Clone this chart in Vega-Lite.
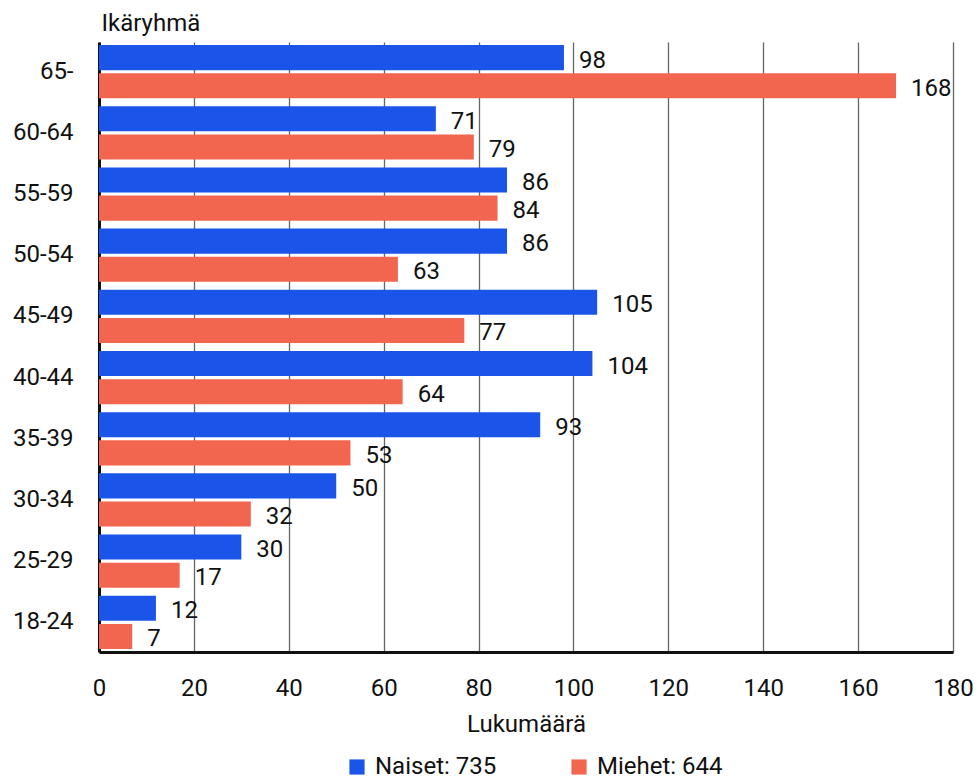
{
  "$schema": "https://vega.github.io/schema/vega-lite/v6.json",
  "width": 854,
  "height": 610,
  "autosize": {"type": "none"},
  "padding": {"left": 99, "top": 42, "right": 26, "bottom": 128},
  "background": "white",
  "config": {
    "font": "Roboto",
    "view": {"stroke": null}
  },
  "data": {
    "values": [
      {"ika": "65-", "sukupuoli": "Naiset: 735", "lkm": 98},
      {"ika": "65-", "sukupuoli": "Miehet: 644", "lkm": 168},
      {"ika": "60-64", "sukupuoli": "Naiset: 735", "lkm": 71},
      {"ika": "60-64", "sukupuoli": "Miehet: 644", "lkm": 79},
      {"ika": "55-59", "sukupuoli": "Naiset: 735", "lkm": 86},
      {"ika": "55-59", "sukupuoli": "Miehet: 644", "lkm": 84},
      {"ika": "50-54", "sukupuoli": "Naiset: 735", "lkm": 86},
      {"ika": "50-54", "sukupuoli": "Miehet: 644", "lkm": 63},
      {"ika": "45-49", "sukupuoli": "Naiset: 735", "lkm": 105},
      {"ika": "45-49", "sukupuoli": "Miehet: 644", "lkm": 77},
      {"ika": "40-44", "sukupuoli": "Naiset: 735", "lkm": 104},
      {"ika": "40-44", "sukupuoli": "Miehet: 644", "lkm": 64},
      {"ika": "35-39", "sukupuoli": "Naiset: 735", "lkm": 93},
      {"ika": "35-39", "sukupuoli": "Miehet: 644", "lkm": 53},
      {"ika": "30-34", "sukupuoli": "Naiset: 735", "lkm": 50},
      {"ika": "30-34", "sukupuoli": "Miehet: 644", "lkm": 32},
      {"ika": "25-29", "sukupuoli": "Naiset: 735", "lkm": 30},
      {"ika": "25-29", "sukupuoli": "Miehet: 644", "lkm": 17},
      {"ika": "18-24", "sukupuoli": "Naiset: 735", "lkm": 12},
      {"ika": "18-24", "sukupuoli": "Miehet: 644", "lkm": 7}
    ]
  },
  "encoding": {
    "y": {
      "field": "ika",
      "type": "nominal",
      "sort": ["65-", "60-64", "55-59", "50-54", "45-49", "40-44", "35-39", "30-34", "25-29", "18-24"],
      "scale": {"paddingInner": 0.13, "paddingOuter": 0.05},
      "axis": {
        "title": "Ikäryhmä",
        "titleAngle": 0,
        "titleAlign": "left",
        "titleBaseline": "alphabetic",
        "titleX": 2,
        "titleY": -12,
        "titleFontSize": 24,
        "titleFontWeight": "normal",
        "titleColor": "#111",
        "labelFontSize": 24,
        "labelColor": "#111",
        "labelPadding": 26,
        "ticks": false,
        "domainColor": "#111",
        "domainWidth": 3,
        "grid": false
      }
    },
    "yOffset": {
      "field": "sukupuoli",
      "type": "nominal",
      "sort": ["Naiset: 735", "Miehet: 644"],
      "scale": {"paddingInner": 0.11, "paddingOuter": 0}
    },
    "x": {
      "field": "lkm",
      "type": "quantitative",
      "scale": {"domain": [0, 180], "nice": false},
      "axis": {
        "title": "Lukumäärä",
        "titleFontSize": 24,
        "titleFontWeight": "normal",
        "titleColor": "#111",
        "titlePadding": 12,
        "labelFontSize": 24,
        "labelColor": "#111",
        "labelPadding": 24,
        "labelFlush": false,
        "values": [0, 20, 40, 60, 80, 100, 120, 140, 160, 180],
        "ticks": false,
        "domainColor": "#111",
        "domainWidth": 3,
        "grid": true,
        "gridColor": "#666",
        "gridWidth": 1.3
      }
    }
  },
  "layer": [
    {
      "mark": {"type": "bar"},
      "encoding": {
        "color": {
          "field": "sukupuoli",
          "type": "nominal",
          "sort": ["Naiset: 735", "Miehet: 644"],
          "scale": {"domain": ["Naiset: 735", "Miehet: 644"], "range": ["#1B54E8", "#F2654F"]},
          "legend": {
            "title": null,
            "orient": "none",
            "direction": "horizontal",
            "legendX": 246,
            "legendY": 713,
            "symbolType": "square",
            "symbolSize": 230,
            "symbolStrokeWidth": 0,
            "labelFontSize": 24,
            "labelColor": "#111",
            "labelOffset": 6,
            "columnPadding": 70
          }
        }
      }
    },
    {
      "mark": {"type": "text", "align": "left", "baseline": "middle", "dx": 15, "dy": 3, "fontSize": 24, "color": "#111"},
      "encoding": {
        "text": {"field": "lkm", "type": "quantitative"}
      }
    }
  ]
}
